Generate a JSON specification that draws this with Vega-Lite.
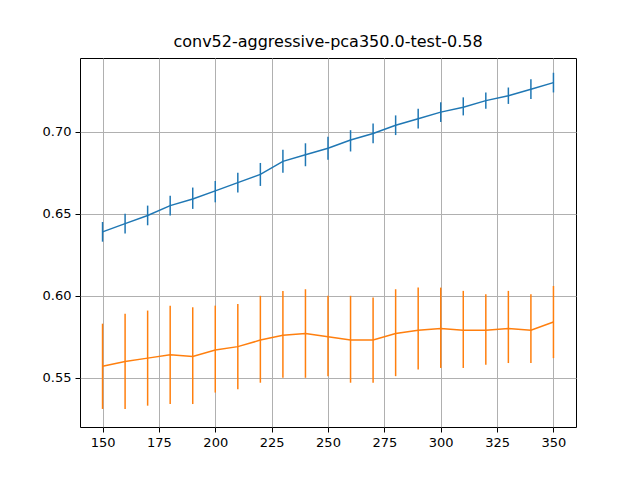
{
  "$schema": "https://vega.github.io/schema/vega-lite/v6.json",
  "width": 496,
  "height": 369,
  "autosize": "none",
  "padding": {"left": 80, "top": 58, "right": 64, "bottom": 53},
  "background": "white",
  "config": {
    "view": {"stroke": "black", "strokeWidth": 1},
    "font": "DejaVu Sans",
    "axis": {"labelFont": "DejaVu Sans", "labelFontSize": 13, "labelColor": "black", "domain": false, "tickColor": "black", "tickSize": 5, "gridColor": "#b0b0b0", "gridWidth": 1, "labelPadding": 4}
  },
  "title": {"text": "conv52-aggressive-pca350.0-test-0.58", "font": "DejaVu Sans", "fontSize": 16, "fontWeight": "normal", "offset": 8},
  "data": {"values": [
    {"x":150,"s":"a","m":0.639,"lo":0.633,"hi":0.645},
    {"x":160,"s":"a","m":0.644,"lo":0.638,"hi":0.650},
    {"x":170,"s":"a","m":0.649,"lo":0.643,"hi":0.655},
    {"x":180,"s":"a","m":0.655,"lo":0.649,"hi":0.661},
    {"x":190,"s":"a","m":0.659,"lo":0.653,"hi":0.666},
    {"x":200,"s":"a","m":0.664,"lo":0.657,"hi":0.670},
    {"x":210,"s":"a","m":0.669,"lo":0.663,"hi":0.675},
    {"x":220,"s":"a","m":0.674,"lo":0.667,"hi":0.681},
    {"x":230,"s":"a","m":0.682,"lo":0.675,"hi":0.689},
    {"x":240,"s":"a","m":0.686,"lo":0.679,"hi":0.693},
    {"x":250,"s":"a","m":0.690,"lo":0.683,"hi":0.697},
    {"x":260,"s":"a","m":0.695,"lo":0.688,"hi":0.701},
    {"x":270,"s":"a","m":0.699,"lo":0.693,"hi":0.705},
    {"x":280,"s":"a","m":0.704,"lo":0.698,"hi":0.710},
    {"x":290,"s":"a","m":0.708,"lo":0.702,"hi":0.714},
    {"x":300,"s":"a","m":0.712,"lo":0.706,"hi":0.718},
    {"x":310,"s":"a","m":0.715,"lo":0.710,"hi":0.721},
    {"x":320,"s":"a","m":0.719,"lo":0.714,"hi":0.724},
    {"x":330,"s":"a","m":0.722,"lo":0.717,"hi":0.727},
    {"x":340,"s":"a","m":0.726,"lo":0.720,"hi":0.732},
    {"x":350,"s":"a","m":0.730,"lo":0.724,"hi":0.736},
    {"x":150,"s":"b","m":0.557,"lo":0.531,"hi":0.583},
    {"x":160,"s":"b","m":0.560,"lo":0.531,"hi":0.589},
    {"x":170,"s":"b","m":0.562,"lo":0.533,"hi":0.591},
    {"x":180,"s":"b","m":0.564,"lo":0.534,"hi":0.594},
    {"x":190,"s":"b","m":0.563,"lo":0.534,"hi":0.593},
    {"x":200,"s":"b","m":0.567,"lo":0.541,"hi":0.594},
    {"x":210,"s":"b","m":0.569,"lo":0.543,"hi":0.595},
    {"x":220,"s":"b","m":0.573,"lo":0.547,"hi":0.600},
    {"x":230,"s":"b","m":0.576,"lo":0.550,"hi":0.603},
    {"x":240,"s":"b","m":0.577,"lo":0.550,"hi":0.604},
    {"x":250,"s":"b","m":0.575,"lo":0.551,"hi":0.600},
    {"x":260,"s":"b","m":0.573,"lo":0.547,"hi":0.600},
    {"x":270,"s":"b","m":0.573,"lo":0.547,"hi":0.599},
    {"x":280,"s":"b","m":0.577,"lo":0.551,"hi":0.604},
    {"x":290,"s":"b","m":0.579,"lo":0.555,"hi":0.605},
    {"x":300,"s":"b","m":0.580,"lo":0.556,"hi":0.605},
    {"x":310,"s":"b","m":0.579,"lo":0.556,"hi":0.603},
    {"x":320,"s":"b","m":0.579,"lo":0.558,"hi":0.601},
    {"x":330,"s":"b","m":0.580,"lo":0.559,"hi":0.603},
    {"x":340,"s":"b","m":0.579,"lo":0.559,"hi":0.601},
    {"x":350,"s":"b","m":0.584,"lo":0.562,"hi":0.606}
  ]},
  "encoding": {
    "x": {"field": "x", "type": "quantitative", "scale": {"domain": [140, 360], "nice": false, "zero": false}, "axis": {"title": null, "values": [150,175,200,225,250,275,300,325,350]}},
    "color": {"field": "s", "type": "nominal", "scale": {"domain": ["a","b"], "range": ["#1f77b4", "#ff7f0e"]}, "legend": null}
  },
  "layer": [
    {"mark": {"type": "rule", "strokeWidth": 1.5},
     "encoding": {"y": {"field": "lo", "type": "quantitative"}, "y2": {"field": "hi"}}},
    {"mark": {"type": "line", "strokeWidth": 1.5},
     "encoding": {"y": {"field": "m", "type": "quantitative", "scale": {"domain": [0.52, 0.745], "nice": false, "zero": false}, "axis": {"title": null, "values": [0.55,0.6,0.65,0.7], "format": ".2f"}}}}
  ]
}
